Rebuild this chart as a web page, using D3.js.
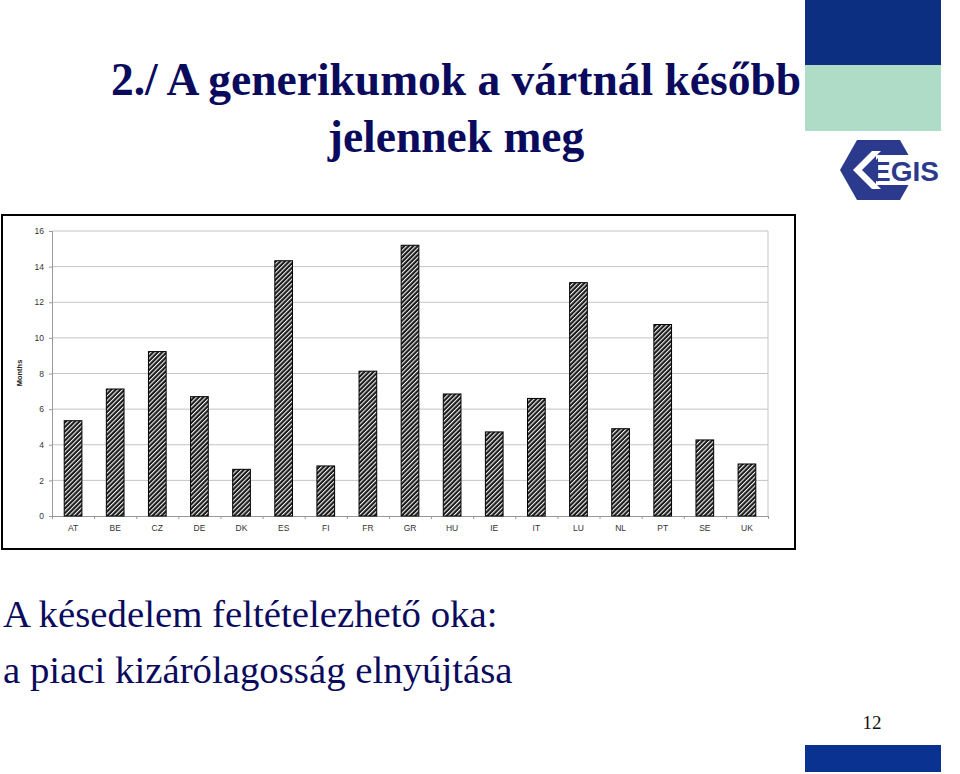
<!DOCTYPE html>
<html>
<head>
<meta charset="utf-8">
<script src="https://cdn.jsdelivr.net/npm/d3@7"></script>
<style>
  html, body { margin: 0; padding: 0; background: #fff; }
  svg { display: block; }
</style>
</head>
<body>
<svg id="c" width="960" height="774"></svg>
<script>
const categories = ["AT","BE","CZ","DE","DK","ES","FI","FR","GR","HU","IE","IT","LU","NL","PT","SE","UK"];
const months = [5.35, 7.13, 9.23, 6.7, 2.62, 14.33, 2.81, 8.13, 15.2, 6.85, 4.72, 6.6, 13.1, 4.9, 10.75, 4.27, 2.92];
const yTicks = [0, 2, 4, 6, 8, 10, 12, 14, 16];
const titleLines = ["2./ A generikumok a vártnál később", "jelennek meg"];
const bodyLines = ["A késedelem feltételezhető oka:", "a piaci kizárólagosság elnyújtása"];
const yLabel = "Months";
const pageNumber = "12";

(function () {
const svg = d3.select("#c");
const navy = "#0b0b5e";

// Chart frame
svg.append("rect").attr("x", 2).attr("y", 215).attr("width", 793).attr("height", 334)
  .attr("fill", "#fff").attr("stroke", "#000").attr("stroke-width", 2);

// Title
svg.selectAll("text.title").data(titleLines).join("text").attr("class", "title")
  .attr("x", 456).attr("y", (d, i) => 95 + i * 57)
  .attr("text-anchor", "middle")
  .attr("font-family", "Liberation Serif, Times New Roman, serif")
  .attr("font-weight", "bold").attr("font-size", 45.5).attr("fill", navy)
  .text(d => d);

// Decorations (right side)
svg.append("rect").attr("x", 805).attr("y", 0).attr("width", 136).attr("height", 65).attr("fill", "#0c2f82");
svg.append("rect").attr("x", 805).attr("y", 65).attr("width", 136).attr("height", 66).attr("fill", "#afdcc6");
svg.append("rect").attr("x", 805).attr("y", 745).attr("width", 136).attr("height", 27).attr("fill", "#0a3391");
svg.append("text").attr("x", 872).attr("y", 729).attr("text-anchor", "middle")
  .attr("font-family", "Liberation Serif, Times New Roman, serif").attr("font-size", 19).attr("fill", "#111")
  .text(pageNumber);

// EGIS logo
const logo = svg.append("g");
const lc = "#2b3a8c";
logo.append("polygon").attr("points", "840,170 857,140 900,140 917,170 900,200 857,200").attr("fill", lc);
logo.append("polygon").attr("points", "872,151 881,151 862,170 881,189 872,189 853,170").attr("fill", "#fff");
logo.append("rect").attr("x", 876).attr("y", 155).attr("width", 70).attr("height", 30).attr("fill", "#fff");
logo.append("polygon").attr("points", "866,170 878,158 878,182").attr("fill", lc);
logo.append("text").attr("x", 872).attr("y", 181).attr("font-family", "Liberation Sans, Arial, sans-serif")
  .attr("font-weight", "bold").attr("font-size", 28).attr("fill", lc).text("EGIS");

// Body text
svg.selectAll("text.body").data(bodyLines).join("text").attr("class", "body")
  .attr("x", 3).attr("y", (d, i) => 627 + i * 56)
  .attr("font-family", "Liberation Serif, Times New Roman, serif")
  .attr("font-size", 38.8).attr("fill", navy)
  .text(d => d);

// Pattern
const defs = svg.append("defs");
const pat = defs.append("pattern").attr("id", "hatch").attr("patternUnits", "userSpaceOnUse")
  .attr("width", 3.2).attr("height", 3.2).attr("patternTransform", "rotate(45)");
pat.append("rect").attr("width", 3.2).attr("height", 3.2).attr("fill", "#1a1a1a");
pat.append("rect").attr("x", 0).attr("width", 1.1).attr("height", 3.2).attr("fill", "#f4f4f4");

const pl = 52, pr = 768, pt = 231, pb = 516;
const x = d3.scaleBand().domain(categories).range([pl, pr]).paddingInner(0.58).paddingOuter(0.29);
const y = d3.scaleLinear().domain([0, 16]).range([pb, pt]);

const g = svg.append("g");
g.selectAll("line.grid").data(yTicks.filter(t => t > 0)).join("line").attr("class", "grid")
  .attr("x1", pl).attr("x2", pr).attr("y1", d => y(d)).attr("y2", d => y(d))
  .attr("stroke", "#c4c4c4").attr("stroke-width", 1);
g.append("line").attr("x1", pr).attr("x2", pr).attr("y1", pt).attr("y2", pb)
  .attr("stroke", "#c4c4c4").attr("stroke-width", 1);

const yAxis = d3.axisLeft(y).tickValues(yTicks).tickSize(3).tickPadding(5);
const ya = g.append("g").attr("transform", `translate(${pl},0)`).call(yAxis);
ya.select(".domain").attr("stroke", "#999");
ya.selectAll(".tick line").attr("stroke", "#999");
ya.selectAll(".tick text").attr("font-family", "Liberation Sans, Arial, sans-serif").attr("font-size", 8.5).attr("fill", "#333");

const xb = d3.scaleLinear().domain([0, categories.length]).range([pl, pr]);
const xa = g.append("g").attr("transform", `translate(0,${pb})`)
  .call(d3.axisBottom(xb).tickValues(d3.range(categories.length + 1)).tickSize(3).tickFormat(""));
xa.select(".domain").attr("stroke", "#999");
xa.selectAll(".tick line").attr("stroke", "#999");

const xl = g.append("g").attr("transform", `translate(0,${pb})`)
  .call(d3.axisBottom(x).tickSize(0).tickPadding(9));
xl.select(".domain").remove();
xl.selectAll(".tick text").attr("font-family", "Liberation Sans, Arial, sans-serif").attr("font-size", 8.5).attr("fill", "#333");

g.selectAll("rect.bar").data(months).join("rect").attr("class", "bar")
  .attr("x", (d, i) => x(categories[i])).attr("width", x.bandwidth())
  .attr("y", d => y(d)).attr("height", d => pb - y(d))
  .attr("fill", "url(#hatch)").attr("stroke", "#000").attr("stroke-width", 1);

svg.append("text").attr("transform", "translate(22,373) rotate(-90)")
  .attr("text-anchor", "middle").attr("font-family", "Liberation Sans, Arial, sans-serif")
  .attr("font-weight", "bold").attr("font-size", 7.5).attr("fill", "#222").text(yLabel);
})();
</script>
</body>
</html>
